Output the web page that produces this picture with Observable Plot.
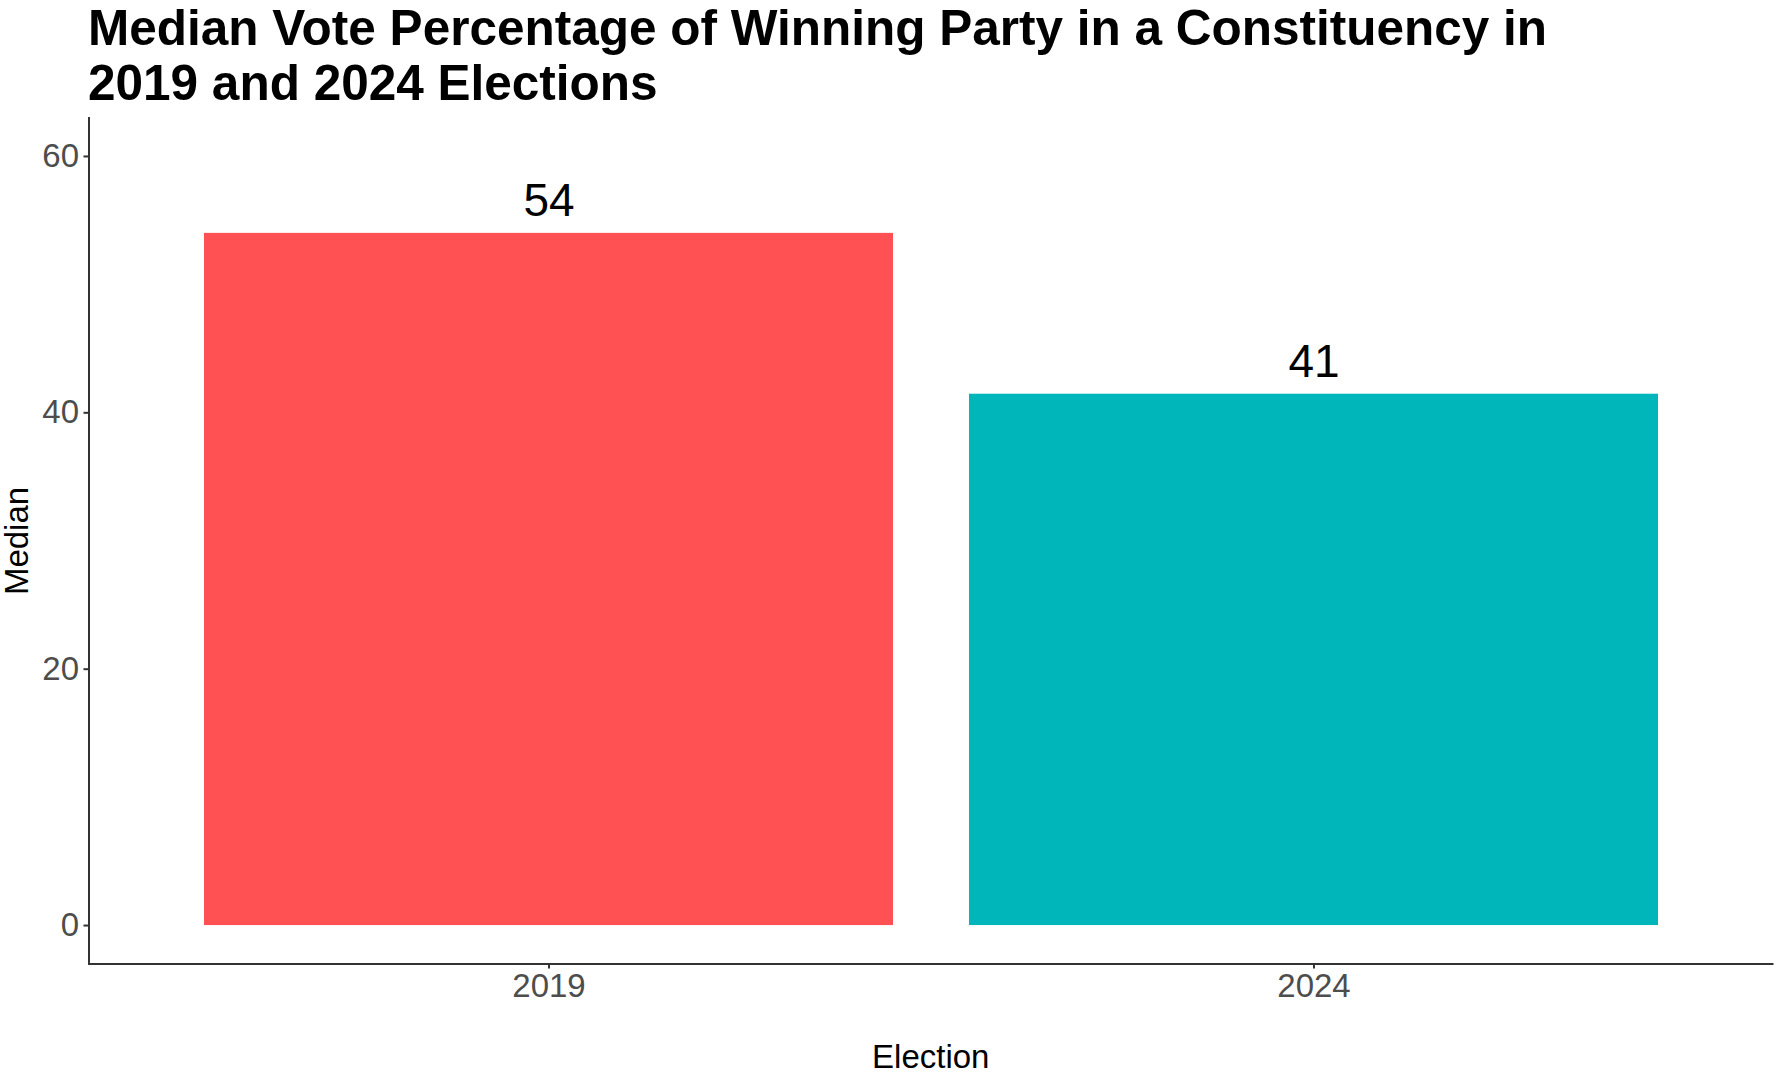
<!DOCTYPE html>
<html>
<head>
<meta charset="utf-8">
<script src="https://cdn.jsdelivr.net/npm/d3@7"></script>
<script src="https://cdn.jsdelivr.net/npm/@observablehq/plot@0.6"></script>
<style>
  html, body { margin: 0; padding: 0; background: #fff; }
  body { width: 1782px; height: 1082px; overflow: hidden; font-family: "Liberation Sans", Arial, Helvetica, sans-serif; }
  #title { position: relative; height: 112px; }
  #title div { position: absolute; left: 88px; top: -0.5px; font-size: 49.5px; font-weight: bold; line-height: 55px; color: #000; white-space: nowrap; }
  #chart svg { display: block; }
</style>
</head>
<body>
<div id="title"><div>Median Vote Percentage of Winning Party in a Constituency in<br>2019 and 2024 Elections</div></div>
<div id="chart"></div>
<script>
const elections = ["2019", "2024"];
const medians = [54.0, 41.45];
const valueLabels = ["54", "41"];
const barColors = ["#FF5053", "#00B6BA"];
const yTicks = [0, 20, 40, 60];
const xTitle = "Election";
const yTitle = "Median";

const data = elections.map((e, i) => ({election: e, median: medians[i], label: valueLabels[i]}));

const font = "'Liberation Sans', Arial, Helvetica, sans-serif";
const chart = Plot.plot({
  width: 1782,
  height: 970,
  marginTop: 5.5,
  marginBottom: 118.5,
  marginLeft: 88.5,
  marginRight: 10,
  style: {fontFamily: font, fontSize: "33px", color: "#4D4D4D", background: "#fff", overflow: "visible"},
  x: {type: "band", domain: elections, paddingInner: 0.1, paddingOuter: 0.15, label: null},
  y: {domain: [-3, 63], label: null},
  color: {domain: elections, range: barColors},
  marks: [
    Plot.barY(data, {x: "election", y: "median", fill: "election"}),
    Plot.text(data, {x: "election", y: "median", text: "label", lineAnchor: "bottom", dy: -17, fontSize: 46, fill: "#000"}),
    Plot.axisY({ticks: yTicks, tickSize: 5, tickPadding: 5, label: null, stroke: "#333", strokeWidth: 2, fontSize: 33}),
    Plot.axisX({tickSize: 5, tickPadding: 5, label: null, stroke: "#333", strokeWidth: 2, fontSize: 33}),
    Plot.frame({anchor: "left", stroke: "#333", strokeWidth: 2}),
    Plot.frame({anchor: "bottom", stroke: "#333", strokeWidth: 2}),
    Plot.text([xTitle], {text: d => d, frameAnchor: "bottom", lineAnchor: "bottom", textAnchor: "middle", dy: 104, fontSize: 33, fill: "#000"}),
    Plot.text([yTitle], {text: d => d, frameAnchor: "left", lineAnchor: "bottom", textAnchor: "middle", rotate: -90, dx: -61, fontSize: 33, fill: "#000"})
  ]
});
document.getElementById("chart").appendChild(chart);
</script>
</body>
</html>
